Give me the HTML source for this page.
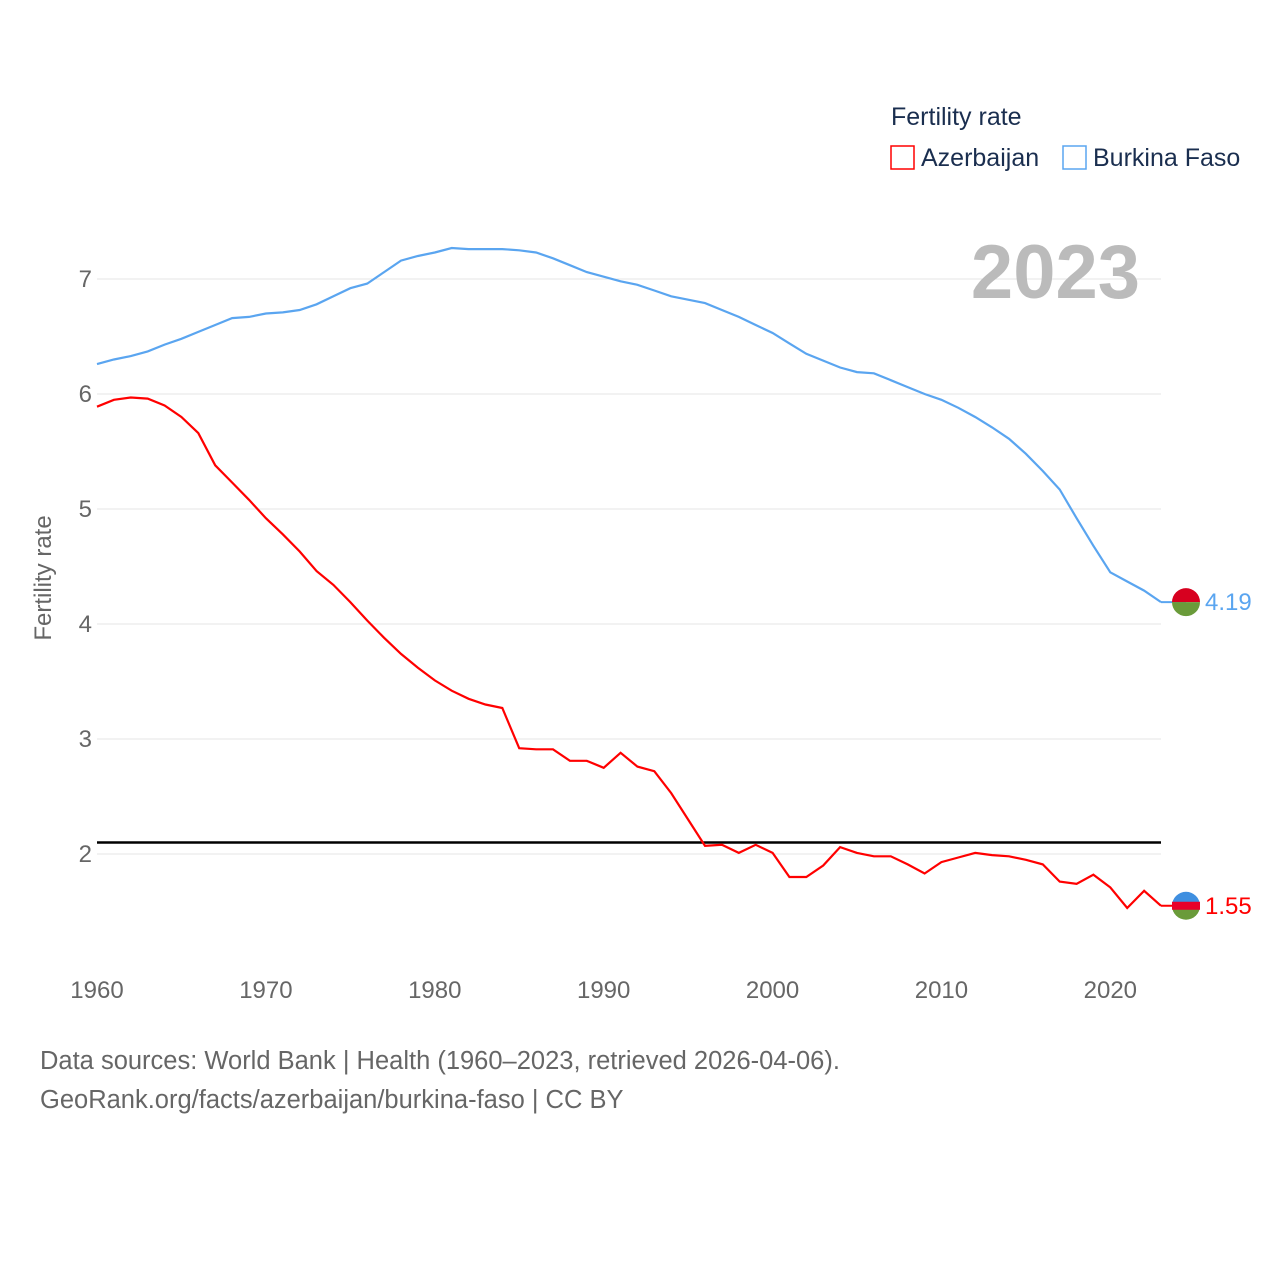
<!DOCTYPE html>
<html><head><meta charset="utf-8"><style>
body{margin:0;background:#fff;font-family:"Liberation Sans",sans-serif}
svg text{font-family:"Liberation Sans",sans-serif}
</style></head><body>
<svg width="1280" height="1280" viewBox="0 0 1280 1280">
<g id="grid"></g>
<g id="yt"></g>
<g id="xt"></g>
<text x="51" y="578" font-size="24" fill="#666" transform="rotate(-90 51 578)" text-anchor="middle">Fertility rate</text>
<text x="1140" y="298" font-size="76" font-weight="bold" fill="#bbb" text-anchor="end">2023</text>
<g>
<text x="891" y="125" font-size="25" fill="#1a2e4f">Fertility rate</text>
<g><rect x="891" y="146" width="23" height="23" fill="none" stroke="#f00" stroke-width="1.5"/><text x="921" y="166" font-size="25" fill="#1a2e4f">Azerbaijan</text></g>
<g><rect x="1063" y="146" width="23" height="23" fill="none" stroke="#5aa5f0" stroke-width="1.5"/><text x="1093" y="166" font-size="25" fill="#1a2e4f">Burkina Faso</text></g>
</g>
<line id="ref" x1="97" x2="1161" stroke="#000" stroke-width="2.5"/>
<path id="bf" fill="none" stroke="#5aa5f0" stroke-width="2.2"/>
<path id="az" fill="none" stroke="#f00" stroke-width="2.2"/>
<g id="ends"></g>
<text x="40" y="1069" font-size="25.5" fill="#666">Data sources: World Bank | Health (1960–2023, retrieved 2026-04-06).</text>
<text x="40" y="1108" font-size="25.5" fill="#666">GeoRank.org/facts/azerbaijan/burkina-faso | CC BY</text>
</svg>
<script>
const years=[];for(let y=1960;y<=2023;y++)years.push(y);
const azerbaijan=[5.89,5.95,5.97,5.96,5.90,5.80,5.66,5.38,5.23,5.08,4.92,4.78,4.63,4.46,4.34,4.19,4.03,3.88,3.74,3.62,3.51,3.42,3.35,3.30,3.27,2.92,2.91,2.91,2.81,2.81,2.75,2.88,2.76,2.72,2.53,2.30,2.07,2.08,2.01,2.08,2.01,1.80,1.80,1.90,2.06,2.01,1.98,1.98,1.91,1.83,1.93,1.97,2.01,1.99,1.98,1.95,1.91,1.76,1.74,1.82,1.71,1.53,1.68,1.55];
const burkina=[6.26,6.30,6.33,6.37,6.43,6.48,6.54,6.60,6.66,6.67,6.70,6.71,6.73,6.78,6.85,6.92,6.96,7.06,7.16,7.20,7.23,7.27,7.26,7.26,7.26,7.25,7.23,7.18,7.12,7.06,7.02,6.98,6.95,6.90,6.85,6.82,6.79,6.73,6.67,6.60,6.53,6.44,6.35,6.29,6.23,6.19,6.18,6.12,6.06,6.00,5.95,5.88,5.80,5.71,5.61,5.48,5.33,5.17,4.92,4.68,4.45,4.37,4.29,4.19];
const yTicks=[2,3,4,5,6,7];
const xTicks=[1960,1970,1980,1990,2000,2010,2020];
const refValue=2.1;
const X=y=>97+(y-1960)*(1161-97)/63, Y=v=>279+(7-v)*115;
const NS='http://www.w3.org/2000/svg';
function mk(t,a,p){const e=document.createElementNS(NS,t);for(const k in a)e.setAttribute(k,a[k]);p.appendChild(e);return e;}
const g=document.getElementById('grid'),yt=document.getElementById('yt'),xt=document.getElementById('xt');
yTicks.forEach(v=>{const l=mk('line',{x1:97,x2:1161,y1:Y(v),y2:Y(v),stroke:'#e6e6e6'},g);


const t=mk('text',{x:92,y:Y(v)+8,'font-size':24,fill:'#666','text-anchor':'end'},yt);t.textContent=v;

});
xTicks.forEach(v=>{const t=mk('text',{x:X(v),y:998,'font-size':24,fill:'#666','text-anchor':'middle'},xt);t.textContent=v;

});
const r=document.getElementById('ref');r.setAttribute('y1',Y(refValue));r.setAttribute('y2',Y(refValue));
const path=a=>a.map((v,i)=>(i?'L':'M')+X(years[i]).toFixed(1)+' '+Y(v).toFixed(1)).join('');
document.getElementById('az').setAttribute('d',path(azerbaijan));
document.getElementById('bf').setAttribute('d',path(burkina));
const ends=document.getElementById('ends');
[[burkina,'#5aa5f0','#d7001f','#6a9b3a'],[azerbaijan,'#f00','#3f8fe0','#6a9b3a']].forEach(([a,c,top,bot],k)=>{
const v=a[a.length-1],yy=Y(v),cx=1186;
mk('line',{x1:1161,x2:cx,y1:yy,y2:yy,stroke:c,'stroke-width':2},ends);
const f=mk('g',{},ends);


mk('path',{d:`M${cx-14} ${yy}A14 14 0 0 1 ${cx+14} ${yy}Z`,fill:top},f);
mk('path',{d:`M${cx-14} ${yy}A14 14 0 0 0 ${cx+14} ${yy}Z`,fill:bot},f);
if(k)mk('rect',{x:cx-14,y:yy-4,width:28,height:8,fill:'#e8002a'},f);
const t=mk('text',{x:1205,y:yy+8,'font-size':24,fill:c},ends);t.textContent=v.toFixed(2);

});
</script>
</body></html>
